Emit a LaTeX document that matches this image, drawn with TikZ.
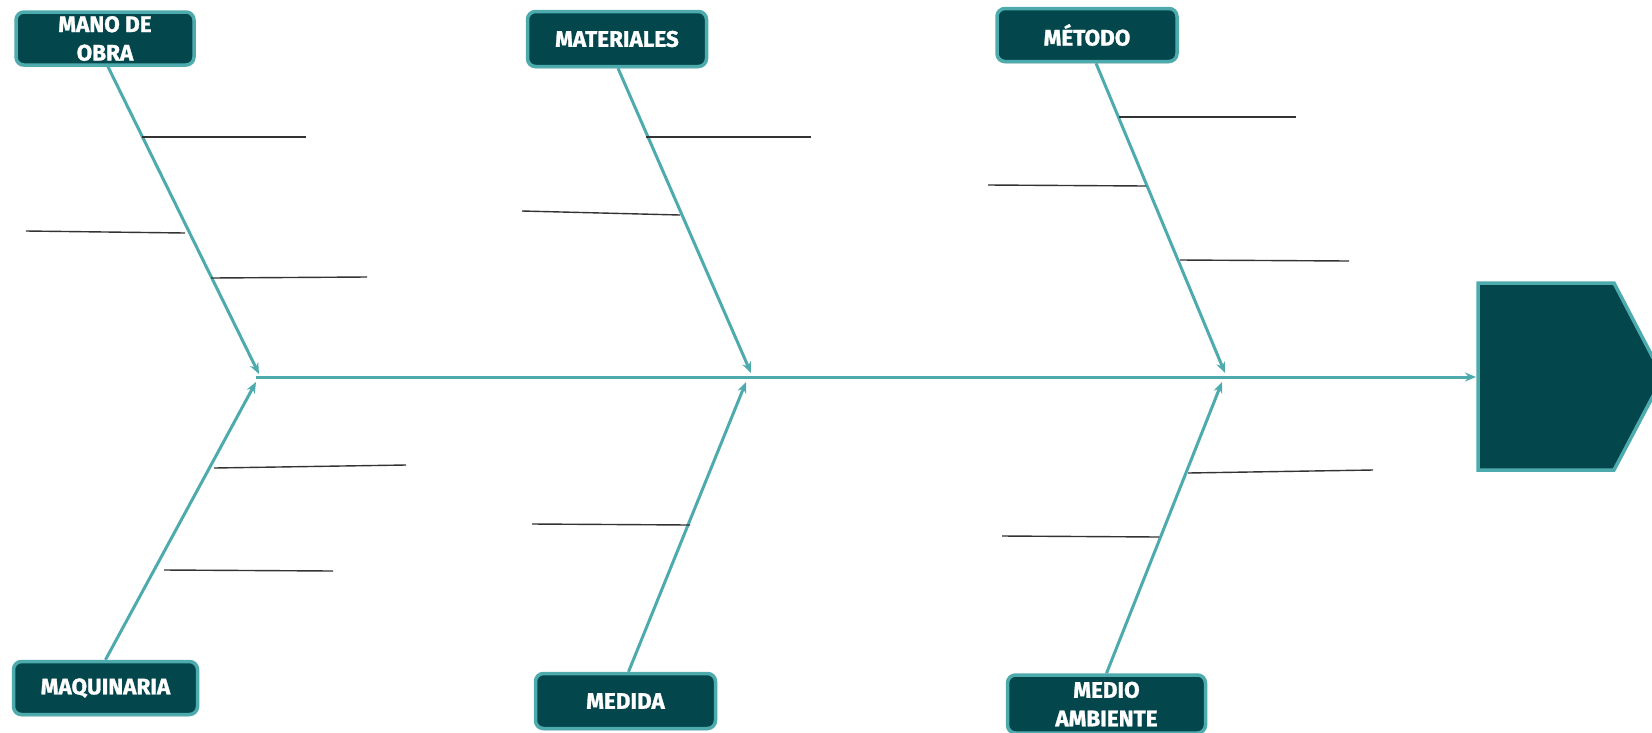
\documentclass[tikz,border=0pt]{standalone}
\usepackage{fontspec}
\setmainfont{Fira Sans}
\newfontfamily\catfont[BoldFeatures={FakeBold=1.3}]{Fira Sans}
\usetikzlibrary{arrows.meta,shadows}
\definecolor{dteal}{HTML}{03474C}
\definecolor{lteal}{HTML}{4EABAD}
\begin{document}
\begin{tikzpicture}[x=1pt,y=-1pt,
  cat/.style={draw=lteal, line width=3.5pt, fill=dteal, rounded corners=8pt,
    text=white, font=\catfont\bfseries\fontsize{22.5}{28.5}\selectfont, align=center,
    inner sep=0pt, drop shadow={shadow xshift=-1pt, shadow yshift=-2pt, opacity=0.3}},
  bone/.style={draw=lteal, line width=3pt, -{Stealth[length=11pt,width=9pt]}},
  sub/.style={draw=black!80, line width=1.4pt}]
\useasboundingbox (0,0) rectangle (1652,732);
\clip (0,0) rectangle (1652,732);
% head
\draw[draw=lteal, line width=3.5pt, fill=dteal]
  (1478,283) -- (1614,283) -- (1663,377) -- (1614,470) -- (1478,470) -- cycle;
\coordinate (head) at (1476,377);
% category boxes
\node[cat, minimum width=178pt, minimum height=53pt] (mano) at (105,38.5) {MANO DE\\OBRA};
\node[cat, minimum width=179pt, minimum height=55pt] (mat) at (617,39) {MATERIALES};
\node[cat, minimum width=180pt, minimum height=53pt] (met) at (1087,35) {MÉTODO};
\node[cat, minimum width=184pt, minimum height=53pt] (maq) at (105.5,688) {MAQUINARIA};
\node[cat, minimum width=180pt, minimum height=55pt] (med) at (625.5,701) {MEDIDA};
\node[cat, minimum width=198pt, minimum height=58pt] (amb) at (1106.5,704) {MEDIO\\AMBIENTE};
% joints on spine
\coordinate (s0) at (256,377);
\coordinate (j1t) at (259,374);
\coordinate (j1b) at (256,382);
\coordinate (j2t) at (751,373);
\coordinate (j2b) at (746,382);
\coordinate (j3t) at (1225,373);
\coordinate (j3b) at (1222,382);
% spine
\draw[bone] (s0) -- (head);
% bones
\draw[bone] ([xshift=3pt]mano.south) -- (j1t);
\draw[bone] (maq.north) -- (j1b);
\draw[bone] ([xshift=1pt]mat.south) -- (j2t);
\draw[bone] ([xshift=3pt]med.north) -- (j2b);
\draw[bone] ([xshift=9pt]met.south) -- (j3t);
\draw[bone] (amb.north) -- (j3b);
% sub-causes
\draw[sub] (142,137) -- (306,137);
\draw[sub] (26,231) -- (185,233);
\draw[sub] (211,278) -- (367,277);
\draw[sub] (214,468) -- (406,465);
\draw[sub] (164,570) -- (333,571);
\draw[sub] (646,137) -- (811,137);
\draw[sub] (522,211) -- (680,215);
\draw[sub] (532,524) -- (690,525);
\draw[sub] (1119,117) -- (1296,117);
\draw[sub] (988,185) -- (1146,186);
\draw[sub] (1180,260) -- (1349,261);
\draw[sub] (1188,473) -- (1373,470);
\draw[sub] (1002,536) -- (1159,537);
\end{tikzpicture}
\end{document}
